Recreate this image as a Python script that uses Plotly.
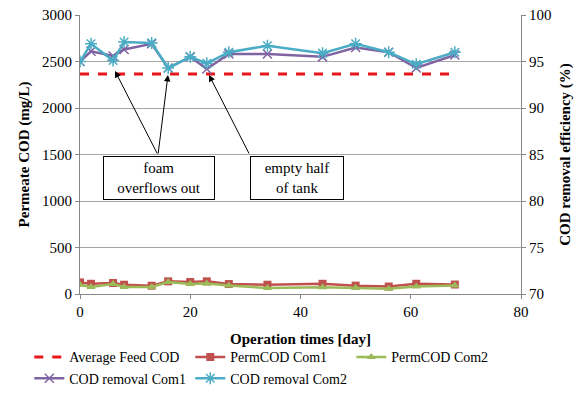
import plotly.graph_objects as go

days = [0, 2, 6, 8, 13, 16, 20, 23, 27, 34, 44, 50, 56, 61, 68]
perm_com1 = [125, 110, 118, 100, 89, 136, 129, 136, 107, 100, 110, 90, 80, 110, 102]
perm_com2 = [100, 75, 107, 75, 75, 129, 107, 114, 92, 64, 73, 66, 56, 80, 92]
rem_com1 = [95.0, 96.1, 95.6, 96.3, 96.9, 94.3, 95.5, 94.2, 95.8, 95.8, 95.5, 96.5, 96.0, 94.3, 95.7]
rem_com2 = [95.0, 96.9, 95.1, 97.1, 97.0, 94.3, 95.5, 94.8, 96.0, 96.7, 95.9, 96.9, 96.0, 94.7, 96.0]
feed_days = [0, 68]
feed_avg = [2365, 2365]

serif = "Liberation Serif"
fig = go.Figure()
fig.add_trace(go.Scatter(x=feed_days, y=feed_avg, mode="lines", name="Average Feed COD",
                         line=dict(color="#E8161B", width=3, dash="dash")))
fig.add_trace(go.Scatter(x=days, y=perm_com1, mode="lines+markers", name="PermCOD Com1",
                         line=dict(color="#C0504D", width=2.5),
                         marker=dict(symbol="square", size=8, color="#C0504D")))
fig.add_trace(go.Scatter(x=days, y=perm_com2, mode="lines+markers", name="PermCOD Com2",
                         line=dict(color="#9BBB59", width=2.5),
                         marker=dict(symbol="triangle-up", size=8, color="#9BBB59")))
fig.add_trace(go.Scatter(x=days, y=rem_com1, mode="lines+markers", name="COD removal Com1", yaxis="y2",
                         line=dict(color="#8064A2", width=2.5),
                         marker=dict(symbol="x-thin", size=9, color="#8064A2",
                                     line=dict(color="#8064A2", width=1.5))))
fig.add_trace(go.Scatter(x=days, y=rem_com2, mode="lines+markers", name="COD removal Com2", yaxis="y2",
                         line=dict(color="#4BACC6", width=2.5),
                         marker=dict(symbol="asterisk-open", size=10, color="#4BACC6",
                                     line=dict(color="#4BACC6", width=1.5))))

annotations = []
for (tx, ty, axx, ayy) in [(6.35, 2398, 14.15, 1495), (15.96, 2355, 14.15, 1495), (23.4, 2355, 30.8, 1495)]:
    annotations.append(dict(x=tx, y=ty, xref="x", yref="y", ax=axx, ay=ayy, axref="x", ayref="y",
                            text="", showarrow=True, arrowhead=2, arrowsize=1.3, arrowwidth=1,
                            arrowcolor="black"))
annotations.append(dict(x=14.33, y=1247, xref="x", yref="y", text="foam<br>overflows out",
                        showarrow=False, width=110, height=42, bordercolor="black", borderwidth=1,
                        borderpad=0, bgcolor="white", font=dict(family=serif, size=15, color="black")))
annotations.append(dict(x=39.4, y=1247, xref="x", yref="y", text="empty half<br>of tank",
                        showarrow=False, width=92, height=42, bordercolor="black", borderwidth=1,
                        borderpad=0, bgcolor="white", font=dict(family=serif, size=15, color="black")))

fig.update_layout(
    width=582, height=394,
    margin=dict(l=80, r=61, t=15, b=100, autoexpand=False),
    paper_bgcolor="white", plot_bgcolor="white",
    font=dict(family=serif, size=15, color="black"),
    showlegend=True,
    legend=dict(orientation="h", x=-0.115, y=-0.17,
                xanchor="left", yanchor="top", entrywidth=116, tracegroupgap=0,
                font=dict(family=serif, size=14), itemwidth=30, borderwidth=0),
    xaxis=dict(range=[0, 80], dtick=20, showgrid=False, showline=True, linecolor="#888888",
               ticks="outside", ticklen=4, tickcolor="#888888", zeroline=False,
               title=dict(text="<b>Operation times [day]</b>", font=dict(family=serif, size=15), standoff=14),
               tickfont=dict(family=serif, size=15)),
    yaxis=dict(range=[0, 3000], dtick=500, showgrid=True, gridcolor="#A6A6A6", showline=True,
               linecolor="#888888", ticks="outside", ticklen=4, tickcolor="#888888", zeroline=False,
               title=dict(text="<b>Permeate COD (mg/L)</b>", font=dict(family=serif, size=15), standoff=8),
               tickfont=dict(family=serif, size=15)),
    yaxis2=dict(range=[70, 100], dtick=5, overlaying="y", side="right", showgrid=False, showline=True,
                linecolor="#888888", ticks="outside", ticklen=4, tickcolor="#888888", zeroline=False,
                title=dict(text="<b>COD removal efficiency (%)</b>", font=dict(family=serif, size=15), standoff=8),
                tickfont=dict(family=serif, size=15)),
    annotations=annotations,
)

fig.write_html("out.html")
